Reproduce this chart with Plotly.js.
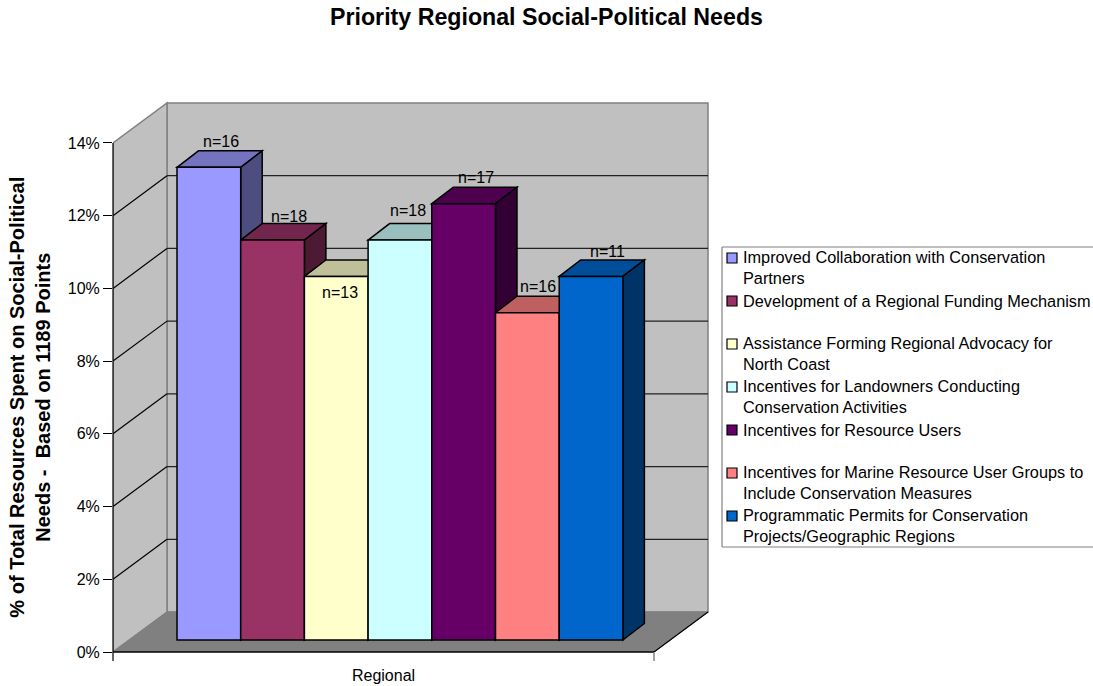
<!DOCTYPE html>
<html>
<head>
<meta charset="utf-8">
<script src="https://cdn.plot.ly/plotly-3.0.1.min.js"></script>
<style>html,body{margin:0;padding:0;background:#fff}</style>
</head>
<body>
<div id="chart" style="width:1093px;height:686px"></div>
<script>
// ---- data ----
const seriesNames = [
  "Improved Collaboration with Conservation<br>Partners",
  "Development of a Regional Funding Mechanism",
  "Assistance Forming Regional Advocacy for<br>North Coast",
  "Incentives for Landowners Conducting<br>Conservation Activities",
  "Incentives for Resource Users",
  "Incentives for Marine Resource User Groups to<br>Include Conservation Measures",
  "Programmatic Permits for Conservation<br>Projects/Geographic Regions"
];
const seriesValues = [13, 11, 10, 11, 12, 9, 10];
const sampleLabels = ["n=16", "n=18", "n=13", "n=18", "n=17", "n=16", "n=11"];
const seriesColors = ["#9999FF", "#993366", "#FFFFCC", "#CCFFFF", "#660066", "#FF8080", "#0066CC"];
const yTicks = [0, 2, 4, 6, 8, 10, 12, 14];
const yTickLabels = ["0%", "2%", "4%", "6%", "8%", "10%", "12%", "14%"];
const categoryLabel = "Regional";

// ---- layout constants (pixels of the page) ----
const W = 1093, H = 686;
const L = 113, R = 712, T = 98, B = 652;
const pxPerPct = 36.36, barPx = 63.7, barLeft = 177;
const wallDx = 54, wallDy = 40;
const barDx = 21.5, barDy = 16.5, barLift = 12;
const axisRight = 654;
const labelShift = [[12, 26], [16, 24], [4, -16], [8, 30], [12, 26], [11, 26], [16, 25]];
const FONT = '"Liberation Sans", Arial, sans-serif';

const xOf = px => (px - barLeft) / barPx - 0.5;
const yOf = py => (B - py) / pxPerPct;
const pxX = px => (px - L) / (R - L);
const pxY = py => (B - py) / (B - T);
const barBase = barLift / pxPerPct;
const ddx = barDx / barPx, ddy = barDy / pxPerPct;

function shade(hex, k) {
  const n = parseInt(hex.slice(1), 16);
  const c = [(n >> 16) & 255, (n >> 8) & 255, n & 255].map(v => Math.round(v * k));
  return `rgb(${c[0]},${c[1]},${c[2]})`;
}
function poly(pts, fill, line, width) {
  return {
    type: "path", xref: "x", yref: "y", layer: "below",
    path: "M" + pts.map(p => p[0] + "," + p[1]).join(" L") + " Z",
    fillcolor: fill, line: { color: line, width: width === undefined ? 1.5 : width }
  };
}
function seg(x0, y0, x1, y1, color, width, layer) {
  return { type: "line", xref: "x", yref: "y", layer: layer || "below", x0, y0, x1, y1, line: { color, width: width || 1.2 } };
}
function pseg(x0, y0, x1, y1, color, width) {
  return { type: "line", xref: "paper", yref: "paper", layer: "above",
    x0: pxX(x0), y0: pxY(y0), x1: pxX(x1), y1: pxY(y1), line: { color, width: width || 1.2 } };
}

const shapes = [];
const wx0 = xOf(L), wx1 = xOf(L + wallDx), wx2 = xOf(axisRight + wallDx), fx2 = xOf(axisRight);
const wdy = wallDy / pxPerPct;
const topTick = yTicks[yTicks.length - 1];
// back wall, side wall, floor
shapes.push(poly([[wx1, wdy], [wx2, wdy], [wx2, topTick + wdy], [wx1, topTick + wdy]], "#C0C0C0", "#808080", 1.5));
shapes.push(poly([[wx0, 0], [wx1, wdy], [wx1, topTick + wdy], [wx0, topTick]], "#C0C0C0", "#808080", 1.5));
shapes.push(poly([[wx0, 0], [wx1, wdy], [wx2, wdy], [fx2, 0]], "#808080", "#808080", 1));
// gridlines
yTicks.slice(1, -1).forEach(t => {
  shapes.push(seg(wx1, t + wdy, wx2, t + wdy, "#222222", 1.2));
  shapes.push(seg(wx0, t, wx1, t + wdy, "#000000", 1.2));
});
shapes.push(seg(fx2, 0, wx2, wdy, "#000000", 1.2));
// 3-D faces of the bars, left to right
seriesValues.forEach((v, i) => {
  const l = i - 0.5, r = i + 0.5, y = barBase + v;
  shapes.push(poly([[l, y], [l + ddx, y + ddy], [r + ddx, y + ddy], [r, y]], shade(seriesColors[i], 0.75), "#000000"));
  shapes.push(poly([[r, barBase], [r + ddx, barBase + ddy], [r + ddx, y + ddy], [r, y]], shade(seriesColors[i], 0.5), "#000000"));
});
// axis lines and end ticks
shapes.push(pseg(L, 143, L, 661, "#000000", 1.2));
shapes.push(pseg(L, 652, axisRight, 652, "#000000", 1.5));
shapes.push(pseg(axisRight, 652, axisRight, 661, "#666666", 1.2));

// legend box
const lgLeft = 722, lgTop = 247, lgBottom = 547;
shapes.push(pseg(lgLeft, lgTop, W, lgTop, "#808080", 1.2));
shapes.push(pseg(lgLeft, lgTop, lgLeft, lgBottom, "#808080", 1.2));
shapes.push(pseg(lgLeft, lgBottom, W, lgBottom, "#808080", 1.2));

const annotations = [];
const legendRow0 = 258, legendStep = 43;
seriesNames.forEach((name, i) => {
  const y = legendRow0 + legendStep * i;
  const twoLines = name.indexOf("<br>") >= 0;
  shapes.push({ type: "rect", xref: "paper", yref: "paper", layer: "above",
    x0: pxX(727), x1: pxX(737), y0: pxY(y - 5), y1: pxY(y + 5),
    fillcolor: seriesColors[i], line: { color: "#000000", width: 1.2 } });
  annotations.push({ xref: "paper", yref: "paper", x: pxX(742), y: pxY(y - (twoLines ? 11.5 : 10.5)),
    xanchor: "left", yanchor: "top", align: "left", showarrow: false, borderpad: 0,
    text: name, font: { family: FONT, size: 16.3, color: "#000000" } });
});
sampleLabels.forEach((t, i) => {
  annotations.push({ xref: "x", yref: "y", x: i, y: barBase + seriesValues[i],
    xshift: labelShift[i][0], yshift: labelShift[i][1], yanchor: "middle", showarrow: false,
    text: t, font: { family: FONT, size: 16, color: "#000000" } });
});

const traces = seriesValues.map((v, i) => ({
  type: "bar", name: seriesNames[i].replace("<br>", " "),
  x: [i], y: [v], base: [barBase], width: [1],
  marker: { color: seriesColors[i], line: { color: "#000000", width: 1.5 } },
  hoverinfo: "name+y"
}));

const pad = "\u00a0".repeat(8);
const layout = {
  width: W, height: H, autosize: false,
  paper_bgcolor: "#FFFFFF", plot_bgcolor: "rgba(0,0,0,0)",
  margin: { l: L, r: W - R, t: T, b: H - B, pad: 0 },
  barmode: "overlay", showlegend: false,
  font: { family: FONT, color: "#000000" },
  title: { text: "<b>Priority Regional Social-Political Needs</b>", x: 0.5, xanchor: "center",
    xref: "container", yref: "container", y: 1 - 17 / H, yanchor: "middle",
    font: { family: FONT, size: 23.2, color: "#000000" } },
  xaxis: { range: [xOf(L), xOf(R)], showgrid: false, zeroline: false, showline: false,
    tickmode: "array", tickvals: [xOf((L + axisRight) / 2)], ticktext: [categoryLabel],
    ticks: "outside", ticklen: 9, tickcolor: "rgba(0,0,0,0)",
    tickfont: { family: FONT, size: 16, color: "#000000" } },
  yaxis: { range: [0, yOf(T)], showgrid: false, zeroline: false, showline: false,
    tickmode: "array", tickvals: yTicks, ticktext: yTickLabels,
    ticks: "outside", ticklen: 9, tickwidth: 1.2, tickcolor: "#000000",
    tickfont: { family: FONT, size: 16, color: "#000000" },
    title: { text: "<b>% of Total Resources Spent on Social-Political" + pad + "<br>Needs -  Based on 1189 Points" + pad + "</b>",
      standoff: 11, font: { family: FONT, size: 20, color: "#000000" } } },
  shapes, annotations
};
Plotly.newPlot("chart", traces, layout, { displayModeBar: false, responsive: false });
</script>
</body>
</html>
